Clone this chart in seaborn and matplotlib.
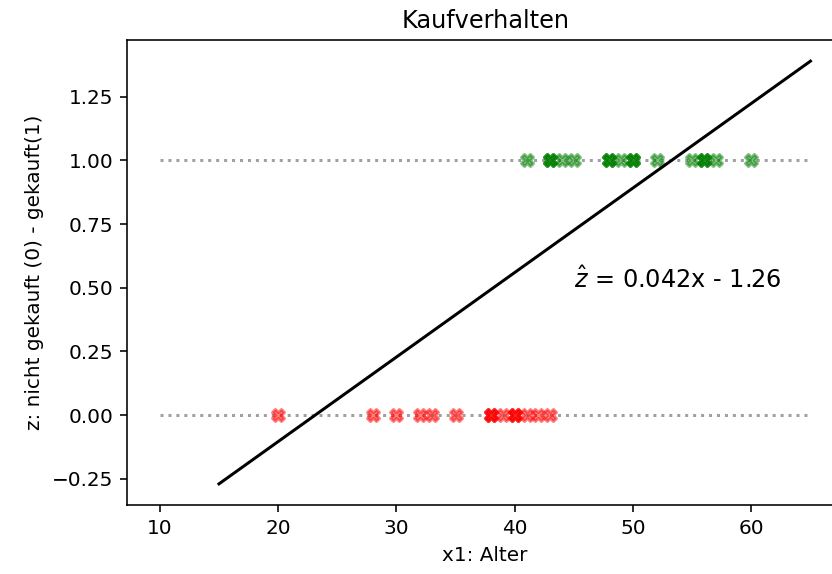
import numpy as np
import pandas as pd
import matplotlib
matplotlib.use("Agg")
import matplotlib.pyplot as plt
import seaborn as sns

# Data
alter_gekauft = [41, 43, 43, 43, 44, 45, 48, 48, 48, 49, 50, 50, 50, 52, 55, 56, 56, 56, 57, 60]
alter_nicht = [20, 28, 30, 32, 33, 35, 38, 38, 38, 39, 40, 40, 40, 41, 42, 43]
z_gekauft = [1.0] * len(alter_gekauft)
z_nicht = [0.0] * len(alter_nicht)

linie_x = [15, 65]
linie_z = [-0.27, 1.39]

ref_x = [10, 65]

title = "Kaufverhalten"
xlabel = "x1: Alter"
ylabel = "z: nicht gekauft (0) - gekauft(1)"
annot = r"$\hat{z}$ = 0.042x - 1.26"

dpi = 144
fig = plt.figure(figsize=(832 / dpi, 574 / dpi), dpi=dpi)
ax = fig.add_axes([127.3 / 832, (574 - 505) / 574, (843 - 127.3) / 832, (505 - 40) / 574])

df_g = pd.DataFrame({"x": alter_gekauft, "z": z_gekauft})
df_n = pd.DataFrame({"x": alter_nicht, "z": z_nicht})
df_l = pd.DataFrame({"x": linie_x, "z": linie_z})

ax.plot(ref_x, [0, 0], linestyle=":", color="grey", alpha=0.75, linewidth=1.5, zorder=1)
ax.plot(ref_x, [1, 1], linestyle=":", color="grey", alpha=0.75, linewidth=1.5, zorder=1)

sns.scatterplot(data=df_g, x="x", y="z", ax=ax, marker="X", color="green",
                alpha=0.5, s=36, edgecolor="face", linewidth=1.5, zorder=2)
sns.scatterplot(data=df_n, x="x", y="z", ax=ax, marker="X", color="red",
                alpha=0.5, s=36, edgecolor="face", linewidth=1.5, zorder=2)
sns.lineplot(data=df_l, x="x", y="z", ax=ax, color="black", linewidth=1.5, zorder=3)

ax.text(45, 0.5, annot, fontsize=12)

ax.set_title(title, fontsize=12)
ax.set_xlabel(xlabel, fontsize=10)
ax.set_ylabel(ylabel, fontsize=10)
ax.tick_params(labelsize=10)
ax.set_xticks([10, 20, 30, 40, 50, 60])
ax.set_yticks([-0.25, 0.0, 0.25, 0.5, 0.75, 1.0, 1.25])

fig.savefig("out.png", dpi=dpi)
